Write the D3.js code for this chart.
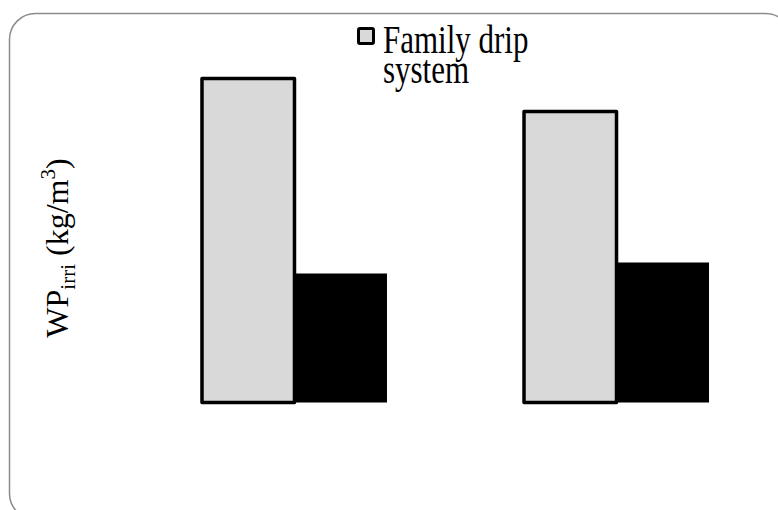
<!DOCTYPE html>
<html lang="en">
<head>
    <meta charset="UTF-8">
    <title>WP irri bar chart</title>
    <script src="https://cdnjs.cloudflare.com/ajax/libs/d3/7.8.5/d3.min.js"></script>
    <style>
        body { margin: 0; background: #fff; }
        svg { display: block; }
        text { font-family: "Liberation Serif", "Times New Roman", serif; fill: #000; }
    </style>
</head>
<body>
    <svg id="chart" width="778" height="510"></svg>
    <script>
        // data (kg/m3)
        const categories = ["Site 1", "Site 2"];
        const seriesNames = ["Family drip system", "Other system"];
        const familyDrip = [3.24, 2.91];
        const otherSystem = [1.29, 1.40];
        const seriesColors = ["#d9d9d9", "#000000"];
        const legendLines = ["Family drip", "system"];

        const svg = d3.select("#chart");

        // chart frame with rounded corners, running off the right and bottom edges
        svg.append("rect")
           .attr("x", 9.5)
           .attr("y", 13.5)
           .attr("width", 782)
           .attr("height", 506)
           .attr("rx", 26)
           .attr("fill", "none")
           .attr("stroke", "#8c8c8c")
           .attr("stroke-width", 1.5);

        const x = d3.scaleBand()
            .domain(categories)
            .range([133.5, 777.5])
            .paddingInner(0.4255)
            .paddingOuter(0.2127);

        const xs = d3.scaleBand()
            .domain(seriesNames)
            .range([0, x.bandwidth()]);

        const y = d3.scaleLinear()
            .domain([0, 4])
            .range([402.5, 2.5]);

        const rows = categories.map((c, i) => ({
            cat: c,
            values: [
                { s: seriesNames[0], v: familyDrip[i], k: 0 },
                { s: seriesNames[1], v: otherSystem[i], k: 1 }
            ]
        }));

        const groups = svg.selectAll("g.group")
            .data(rows)
            .enter()
            .append("g")
            .attr("class", "group")
            .attr("transform", d => `translate(${x(d.cat)},0)`);

        // black bars first so the grey bar outline stays on top
        groups.selectAll("rect.bar")
            .data(d => d.values.slice().reverse())
            .enter()
            .append("rect")
            .attr("class", "bar")
            .attr("x", d => xs(d.s))
            .attr("y", d => y(d.v))
            .attr("width", xs.bandwidth())
            .attr("height", d => y(0) - y(d.v))
            .attr("fill", d => seriesColors[d.k])
            .attr("stroke", d => d.k === 0 ? "#000" : "none")
            .attr("stroke-width", 3.5)
            .attr("stroke-linejoin", "round");

        // y axis title: WP_irri (kg/m^3)
        const yTitle = svg.append("text")
            .attr("transform", "translate(68,248) rotate(-90)")
            .attr("text-anchor", "middle")
            .attr("font-size", 32);
        yTitle.append("tspan").text("WP");
        yTitle.append("tspan").attr("font-size", 21).attr("dy", 7).text("irri");
        yTitle.append("tspan").attr("dy", -7).text(" (kg/m");
        yTitle.append("tspan").attr("font-size", 21).attr("dy", -13).text("3");
        yTitle.append("tspan").attr("dy", 13).text(")");

        // legend (only the first entry is visible in the frame)
        const legend = svg.append("g").attr("transform", "translate(357,27)");
        legend.append("rect")
            .attr("x", 1.5).attr("y", 1.5)
            .attr("width", 15).attr("height", 15)
            .attr("rx", 1.5)
            .attr("fill", seriesColors[0])
            .attr("stroke", "#000")
            .attr("stroke-width", 3);
        // the legend text in the picture is drawn taller than it is wide
        legend.selectAll("text.leg")
            .data(legendLines)
            .enter()
            .append("text")
            .attr("class", "leg")
            .attr("transform", (d, i) => `translate(26,${26.3 + i * 29.4}) scale(1,1.27)`)
            .attr("font-size", 31)
            .text(d => d);
    </script>
</body>
</html>
